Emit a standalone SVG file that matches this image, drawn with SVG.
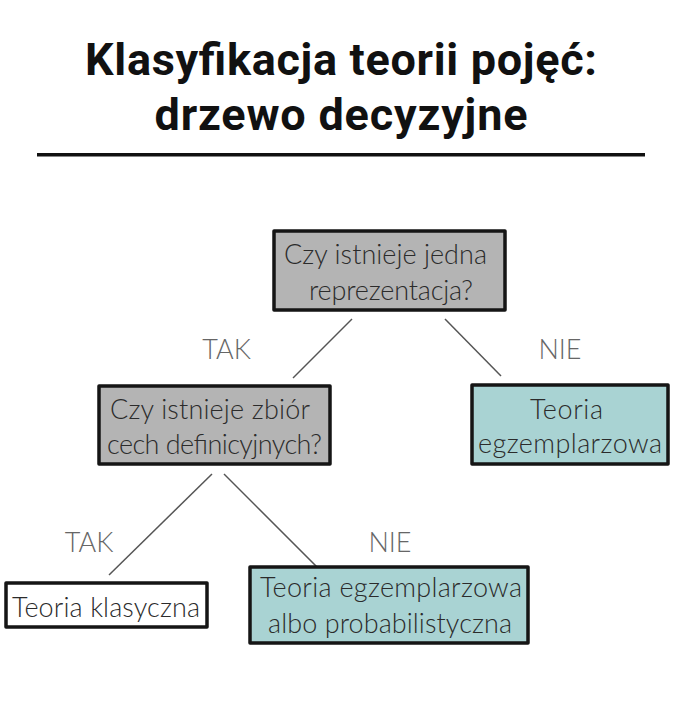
<svg xmlns="http://www.w3.org/2000/svg" width="678" height="704" viewBox="0 0 678 704">
<style>
.title{font-family:Roboto,"Liberation Sans",sans-serif;font-weight:700;font-size:45px;fill:#111;text-anchor:middle}
.box{stroke:#151515;stroke-width:3.5;stroke-linejoin:round}
.q{fill:#b4b4b4}
.t{fill:#a9d3d3}
.w{fill:#ffffff}
.txt{font-family:Lato,"Open Sans",sans-serif;font-weight:300;font-size:27px;fill:#2b2b2b;text-anchor:middle}
.lab{font-family:Lato,"Open Sans",sans-serif;font-weight:300;font-size:27px;fill:#666;text-anchor:middle}
.con line{stroke:#555;stroke-width:1.5;fill:none}
</style>
<rect width="678" height="704" fill="#ffffff"/>
<g id="title">
<text class="title" x="341" y="75" textLength="512">Klasyfikacja teorii pojęć:</text>
<text class="title" x="341" y="130" textLength="373">drzewo decyzyjne</text>
<rect x="37" y="153" width="608" height="3.5" fill="#111"/>
</g>
<g id="connectors" class="con">
<line x1="352" y1="319" x2="293" y2="378"/>
<line x1="445" y1="319" x2="501" y2="376"/>
<line x1="212" y1="474" x2="109" y2="575"/>
<line x1="224" y1="474" x2="326" y2="576"/>
</g>
<g id="labels">
<text class="lab" x="226.5" y="359">TAK</text>
<text class="lab" x="560" y="359">NIE</text>
<text class="lab" x="89" y="552">TAK</text>
<text class="lab" x="390" y="552">NIE</text>
</g>
<g id="q1">
<rect class="box q" x="274" y="231" width="231" height="79"/>
<text class="txt" x="385.5" y="264" textLength="203">Czy istnieje jedna</text>
<text class="txt" x="391" y="300" textLength="164">reprezentacja?</text>
</g>
<g id="q2">
<rect class="box q" x="99" y="386" width="231" height="78"/>
<text class="txt" x="210" y="419" textLength="200">Czy istnieje zbiór</text>
<text class="txt" x="214.5" y="454" textLength="215">cech definicyjnych?</text>
</g>
<g id="r1">
<rect class="box t" x="472" y="385" width="196" height="79"/>
<text class="txt" x="566.5" y="419" textLength="73">Teoria</text>
<text class="txt" x="570" y="453" textLength="184">egzemplarzowa</text>
</g>
<g id="r2">
<rect class="box w" x="6" y="583" width="201" height="44"/>
<text class="txt" x="106" y="617" textLength="188">Teoria klasyczna</text>
</g>
<g id="r3">
<rect class="box t" x="250" y="567" width="278" height="76"/>
<text class="txt" x="391" y="597" textLength="262">Teoria egzemplarzowa</text>
<text class="txt" x="390" y="633" textLength="244">albo probabilistyczna</text>
</g>
</svg>
